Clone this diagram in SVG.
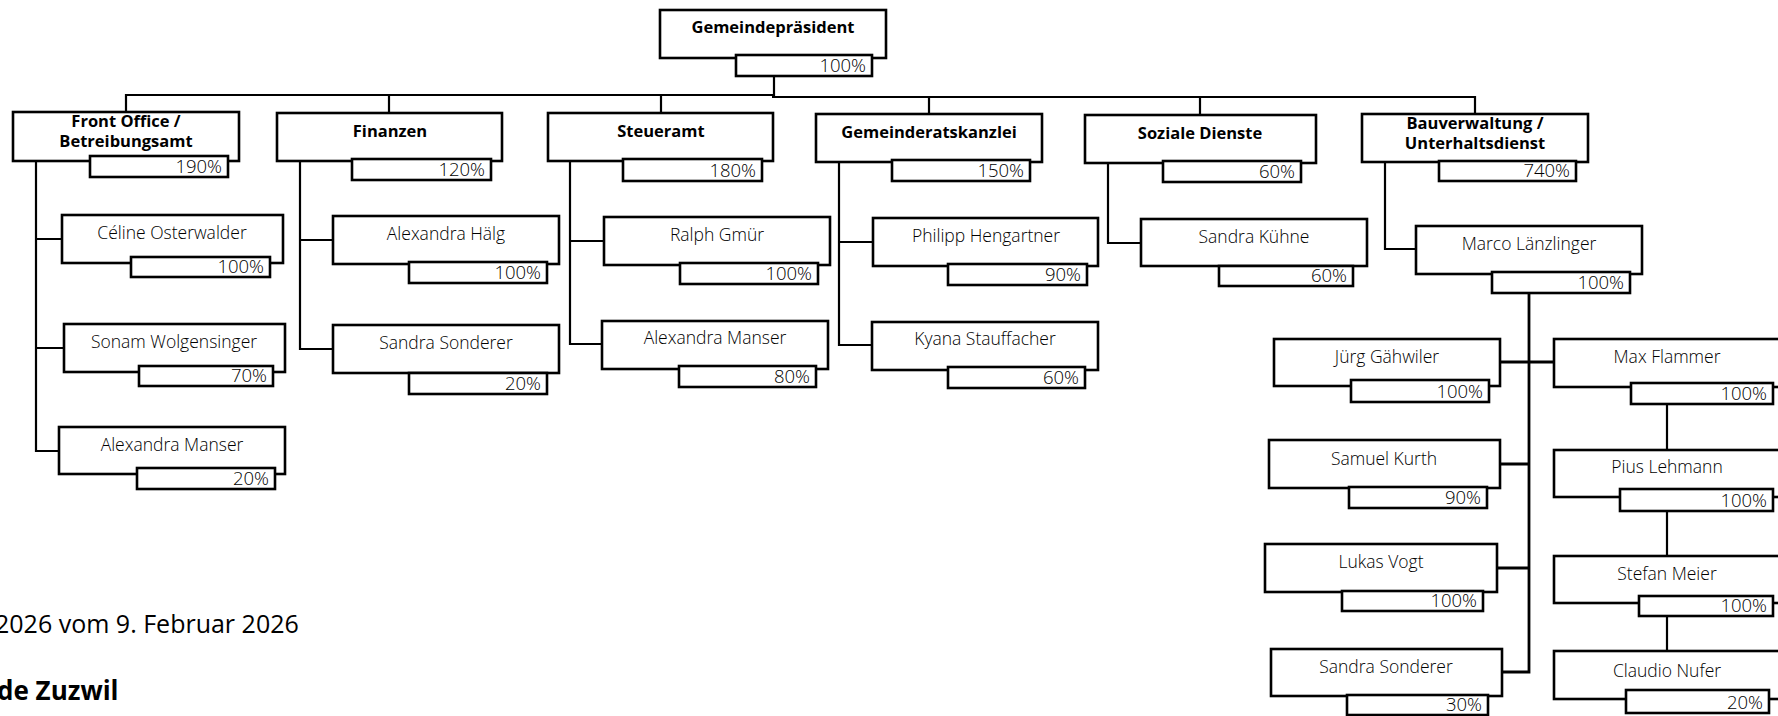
<svg xmlns="http://www.w3.org/2000/svg" width="1778" height="716" viewBox="0 0 1778 716">
<style>
.b{fill:#fff;stroke:#000;stroke-width:2.6}
.c{fill:none;stroke:#000;stroke-width:2.2}
.h{font-family:"Open Sans","Noto Sans",sans-serif;font-weight:700;font-size:16.5px;text-anchor:middle;fill:#000}
.n{font-family:"Open Sans","Noto Sans",sans-serif;font-weight:300;font-size:17.5px;text-anchor:middle;fill:#000}
.p{font-family:"Open Sans","Noto Sans",sans-serif;font-weight:300;font-size:18.5px;text-anchor:end;fill:#000}
.f{font-family:"Open Sans","Noto Sans",sans-serif;font-size:25px;fill:#000}
</style>
<g id="connectors">
<path class="c" d="M126,112V95H774M389,95V113M661,95V113M774,76V97M772,97H1475V114M929,97V114M1200,97V115"/>
<path class="c" d="M36,161V451H59M36,239H62M36,348H64"/>
<path class="c" d="M300,161V349H333M300,240H333"/>
<path class="c" d="M570,161V344H602M570,241H604"/>
<path class="c" d="M839,162V345H872M839,242H873"/>
<path class="c" d="M1108,163V243H1141"/>
<path class="c" d="M1385,162V249H1416"/>
<path class="c" d="M1529,293V672H1502M1500,362H1554M1500,464H1529M1497,568H1529" style="stroke-width:2.8"/>
<path class="c" d="M1667,404V450M1667,511V556M1667,616V651"/>
</g>
<g id="gp"><rect class="b" x="660" y="10" width="226" height="48"/><text class="h" x="773" y="33">Gemeindepräsident</text><rect class="b" x="736" y="55" width="136" height="21"/><text class="p" x="866" y="72">100%</text></g>
<g id="front"><rect class="b" x="13" y="112" width="226" height="49"/><text class="h" x="126" y="127">Front Office /</text><text class="h" x="126" y="147">Betreibungsamt</text><rect class="b" x="90" y="156" width="138" height="21"/><text class="p" x="222" y="173">190%</text></g>
<g id="fin"><rect class="b" x="277" y="113" width="225" height="48"/><text class="h" x="390" y="137">Finanzen</text><rect class="b" x="352" y="159" width="139" height="21"/><text class="p" x="485" y="176">120%</text></g>
<g id="steuer"><rect class="b" x="548" y="113" width="225" height="48"/><text class="h" x="661" y="137">Steueramt</text><rect class="b" x="623" y="159" width="139" height="22"/><text class="p" x="756" y="177">180%</text></g>
<g id="gk"><rect class="b" x="816" y="114" width="226" height="48"/><text class="h" x="929" y="138">Gemeinderatskanzlei</text><rect class="b" x="892" y="160" width="138" height="21"/><text class="p" x="1024" y="177">150%</text></g>
<g id="soz"><rect class="b" x="1085" y="115" width="231" height="48"/><text class="h" x="1200" y="139">Soziale Dienste</text><rect class="b" x="1163" y="161" width="138" height="21"/><text class="p" x="1295" y="178">60%</text></g>
<g id="bau"><rect class="b" x="1362" y="114" width="226" height="48"/><text class="h" x="1475" y="129">Bauverwaltung /</text><text class="h" x="1475" y="149">Unterhaltsdienst</text><rect class="b" x="1439" y="161" width="137" height="20"/><text class="p" x="1570" y="177">740%</text></g>
<g id="celine"><rect class="b" x="62" y="215" width="221" height="48"/><text class="n" x="172" y="239">Céline Osterwalder</text><rect class="b" x="131" y="257" width="139" height="20"/><text class="p" x="264" y="273">100%</text></g>
<g id="sonam"><rect class="b" x="64" y="324" width="221" height="48"/><text class="n" x="174" y="348">Sonam Wolgensinger</text><rect class="b" x="139" y="366" width="134" height="20"/><text class="p" x="267" y="382">70%</text></g>
<g id="manser1"><rect class="b" x="59" y="427" width="226" height="47"/><text class="n" x="172" y="451">Alexandra Manser</text><rect class="b" x="137" y="468" width="138" height="21"/><text class="p" x="269" y="485">20%</text></g>
<g id="haelg"><rect class="b" x="333" y="216" width="226" height="48"/><text class="n" x="446" y="240">Alexandra Hälg</text><rect class="b" x="409" y="262" width="138" height="21"/><text class="p" x="541" y="279">100%</text></g>
<g id="sonderer1"><rect class="b" x="333" y="325" width="226" height="48"/><text class="n" x="446" y="349">Sandra Sonderer</text><rect class="b" x="409" y="373" width="138" height="21"/><text class="p" x="541" y="390">20%</text></g>
<g id="ralph"><rect class="b" x="604" y="217" width="226" height="48"/><text class="n" x="717" y="241">Ralph Gmür</text><rect class="b" x="680" y="263" width="138" height="21"/><text class="p" x="812" y="280">100%</text></g>
<g id="manser2"><rect class="b" x="602" y="321" width="226" height="48"/><text class="n" x="715" y="344">Alexandra Manser</text><rect class="b" x="679" y="366" width="137" height="21"/><text class="p" x="810" y="383">80%</text></g>
<g id="philipp"><rect class="b" x="873" y="218" width="225" height="48"/><text class="n" x="986" y="242">Philipp Hengartner</text><rect class="b" x="948" y="264" width="139" height="21"/><text class="p" x="1081" y="281">90%</text></g>
<g id="kyana"><rect class="b" x="872" y="322" width="226" height="48"/><text class="n" x="985" y="345">Kyana Stauffacher</text><rect class="b" x="948" y="367" width="137" height="21"/><text class="p" x="1079" y="384">60%</text></g>
<g id="kuehne"><rect class="b" x="1141" y="219" width="226" height="47"/><text class="n" x="1254" y="243">Sandra Kühne</text><rect class="b" x="1219" y="266" width="134" height="20"/><text class="p" x="1347" y="282">60%</text></g>
<g id="marco"><rect class="b" x="1416" y="226" width="226" height="48"/><text class="n" x="1529" y="250">Marco Länzlinger</text><rect class="b" x="1492" y="272" width="138" height="21"/><text class="p" x="1624" y="289">100%</text></g>
<g id="juerg"><rect class="b" x="1274" y="339" width="226" height="47"/><text class="n" x="1387" y="363">Jürg Gähwiler</text><rect class="b" x="1351" y="380" width="138" height="22"/><text class="p" x="1483" y="398">100%</text></g>
<g id="samuel"><rect class="b" x="1269" y="440" width="231" height="48"/><text class="n" x="1384" y="465">Samuel Kurth</text><rect class="b" x="1349" y="487" width="138" height="21"/><text class="p" x="1481" y="504">90%</text></g>
<g id="lukas"><rect class="b" x="1265" y="544" width="232" height="48"/><text class="n" x="1381" y="568">Lukas Vogt</text><rect class="b" x="1342" y="591" width="141" height="20"/><text class="p" x="1477" y="607">100%</text></g>
<g id="sonderer2"><rect class="b" x="1271" y="649" width="231" height="47"/><text class="n" x="1386" y="673">Sandra Sonderer</text><rect class="b" x="1347" y="695" width="141" height="20"/><text class="p" x="1482" y="711">30%</text></g>
<g id="max"><rect class="b" x="1554" y="339" width="227" height="48"/><text class="n" x="1667" y="363">Max Flammer</text><rect class="b" x="1631" y="383" width="142" height="21"/><text class="p" x="1767" y="400">100%</text></g>
<g id="pius"><rect class="b" x="1554" y="450" width="227" height="47"/><text class="n" x="1667" y="473">Pius Lehmann</text><rect class="b" x="1620" y="489" width="153" height="22"/><text class="p" x="1767" y="507">100%</text></g>
<g id="stefan"><rect class="b" x="1554" y="556" width="227" height="47"/><text class="n" x="1667" y="580">Stefan Meier</text><rect class="b" x="1639" y="596" width="134" height="20"/><text class="p" x="1767" y="612">100%</text></g>
<g id="claudio"><rect class="b" x="1554" y="651" width="227" height="48"/><text class="n" x="1667" y="677">Claudio Nufer</text><rect class="b" x="1626" y="690" width="143" height="23"/><text class="p" x="1763" y="709">20%</text></g>
<text class="f" x="-5" y="633">2026 vom 9. Februar 2026</text>
<text class="f" x="-3" y="700" style="font-weight:700;font-size:26px">de Zuzwil</text>
</svg>
